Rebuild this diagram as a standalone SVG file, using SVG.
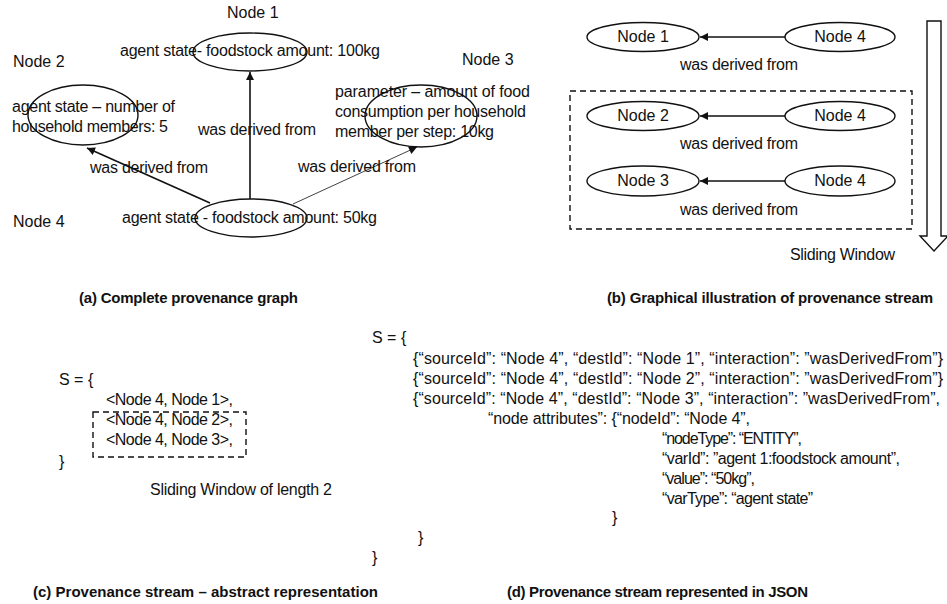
<svg xmlns="http://www.w3.org/2000/svg" width="947" height="604" viewBox="0 0 947 604">
<style>
text{font-family:"Liberation Sans",Arial,sans-serif;font-size:16px;fill:#111}
.cap{font-weight:bold;font-size:15px}
.mid{text-anchor:middle}
.el{fill:none;stroke:#111;stroke-width:1.4}
.elw{fill:#fff;stroke:#111;stroke-width:1.4}
.edge{stroke:#111;stroke-width:1.6;fill:none}
.thin{stroke:#111;stroke-width:0.8;fill:none}
.dash{fill:none;stroke:#111;stroke-width:1.4;stroke-dasharray:6 4}
</style>
<defs>
<marker id="ah" viewBox="0 0 10 10" refX="10" refY="5" markerWidth="9" markerHeight="8" markerUnits="userSpaceOnUse" orient="auto">
<path d="M0,0 L10,5 L0,10 z" fill="#111"/>
</marker>
</defs>
<rect width="947" height="604" fill="#fff"/>

<!-- (a) Complete provenance graph -->
<g id="a-node1">
<ellipse class="el" cx="250" cy="52" rx="57" ry="19"/>
<text x="227" y="18">Node 1</text>
<text x="120" y="56" textLength="260">agent state- foodstock amount: 100kg</text>
</g>
<g id="a-node2">
<ellipse class="el" cx="83" cy="115" rx="55" ry="30"/>
<text x="13" y="67">Node 2</text>
<text x="12" y="112" textLength="163">agent state – number of</text>
<text x="12" y="132" textLength="156">household members: 5</text>
</g>
<g id="a-node3">
<ellipse class="el" cx="421" cy="116" rx="56" ry="31"/>
<text x="462" y="65">Node 3</text>
<text x="335" y="97" textLength="195">parameter – amount of food</text>
<text x="335" y="117" textLength="191">consumption per household</text>
<text x="335" y="137" textLength="159">member per step: 10kg</text>
</g>
<g id="a-node4">
<ellipse class="el" cx="251" cy="218" rx="56" ry="19"/>
<text x="13" y="227">Node 4</text>
<text x="122" y="223" textLength="255">agent state - foodstock amount: 50kg</text>
</g>
<g id="a-connectors">
<line class="edge" x1="250" y1="199" x2="250" y2="72" marker-end="url(#ah)"/>
<line class="edge" x1="210" y1="203" x2="87" y2="148" marker-end="url(#ah)"/>
<line class="thin" x1="293" y1="204" x2="417" y2="147" marker-end="url(#ah)"/>
<text x="198" y="135" textLength="118">was derived from</text>
<text x="90" y="173" textLength="118">was derived from</text>
<text x="298" y="172" textLength="118">was derived from</text>
</g>
<text class="cap" x="79" y="303" textLength="219">(a) Complete provenance graph</text>

<!-- (b) Graphical illustration of provenance stream -->
<g id="b-row1-node1"><ellipse class="elw" cx="643" cy="37" rx="56" ry="14.5"/><text class="mid" x="643" y="42">Node 1</text></g>
<g id="b-row1-node4"><ellipse class="elw" cx="840" cy="37" rx="55" ry="14.5"/><text class="mid" x="840" y="42">Node 4</text></g>
<g id="b-row2-node2"><ellipse class="elw" cx="643" cy="116" rx="56" ry="14.5"/><text class="mid" x="643" y="121">Node 2</text></g>
<g id="b-row2-node4"><ellipse class="elw" cx="840" cy="116" rx="55" ry="14.5"/><text class="mid" x="840" y="121">Node 4</text></g>
<g id="b-row3-node3"><ellipse class="elw" cx="643" cy="181" rx="56" ry="15"/><text class="mid" x="643" y="186">Node 3</text></g>
<g id="b-row3-node4"><ellipse class="elw" cx="840" cy="181" rx="55" ry="15"/><text class="mid" x="840" y="186">Node 4</text></g>
<g id="b-connectors">
<line class="edge" x1="785" y1="37" x2="700" y2="37" marker-end="url(#ah)"/>
<line class="edge" x1="785" y1="116" x2="700" y2="116" marker-end="url(#ah)"/>
<line class="edge" x1="785" y1="181" x2="700" y2="181" marker-end="url(#ah)"/>
<text class="mid" x="739" y="70" textLength="118">was derived from</text>
<text class="mid" x="739" y="149" textLength="118">was derived from</text>
<text class="mid" x="739" y="215" textLength="118">was derived from</text>
</g>
<g id="b-window">
<rect class="dash" x="570" y="91" width="342" height="138"/>
<polygon points="927,21 941,21 941,236 948,236 934,251 920,236 927,236" fill="#fff" stroke="#111" stroke-width="1.4"/>
<text x="790" y="260" textLength="105">Sliding Window</text>
</g>
<text class="cap" x="607" y="303" textLength="326">(b) Graphical illustration of provenance stream</text>

<!-- (c) Provenance stream – abstract representation -->
<g id="c-stream">
<text x="59" y="385">S = {</text>
<text x="106" y="405" textLength="127">&lt;Node 4, Node 1&gt;,</text>
<text x="106" y="425" textLength="127">&lt;Node 4, Node 2&gt;,</text>
<text x="106" y="445" textLength="127">&lt;Node 4, Node 3&gt;,</text>
<text x="59" y="467">}</text>
<rect class="dash" x="93" y="412" width="153" height="45"/>
<text x="150" y="495" textLength="182">Sliding Window of length 2</text>
</g>
<text class="cap" x="33" y="597" textLength="345">(c) Provenance stream – abstract representation</text>

<!-- (d) Provenance stream represented in JSON -->
<g id="d-json">
<text x="372" y="343">S = {</text>
<text x="413" y="364" textLength="530">{“sourceId”: “Node 4”, “destId”: “Node 1”, “interaction”: ”wasDerivedFrom”}</text>
<text x="413" y="384" textLength="530">{“sourceId”: “Node 4”, “destId”: “Node 2”, “interaction”: ”wasDerivedFrom”}</text>
<text x="413" y="404" textLength="527">{“sourceId”: “Node 4”, “destId”: “Node 3”, “interaction”: ”wasDerivedFrom”,</text>
<text x="488" y="424" textLength="262">“node attributes”: {“nodeId”: “Node 4”,</text>
<text x="662" y="444" textLength="140">“nodeType”: “ENTITY”,</text>
<text x="662" y="464" textLength="238">“varId”: ”agent 1:foodstock amount”,</text>
<text x="662" y="484" textLength="93">“value”: “50kg”,</text>
<text x="662" y="504" textLength="151">“varType”: “agent state”</text>
<text x="612" y="523">}</text>
<text x="418" y="543">}</text>
<text x="372" y="563">}</text>
</g>
<text class="cap" x="507" y="597" textLength="301">(d) Provenance stream represented in JSON</text>
</svg>
